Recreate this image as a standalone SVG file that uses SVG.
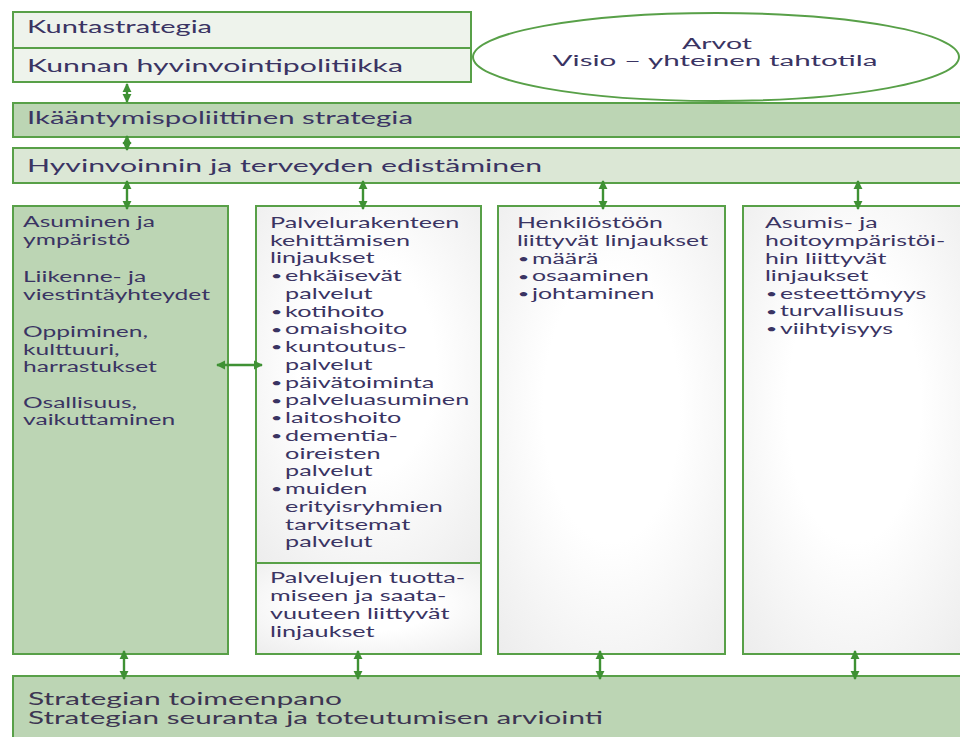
<svg xmlns="http://www.w3.org/2000/svg" width="960" height="737" viewBox="0 0 960 737">
  <style>
    .frame { stroke: #58a048; stroke-width: 2; }
    .dark { fill: #bcd5b4; }
    .mid { fill: #dbe7d5; }
    .pale { fill: #eef3ec; }
    .txt { font-family: Lato, "Open Sans", sans-serif; fill: #3a3463; }
    .h { font-size: 18px; }
    .c { font-size: 15px; }
    .c .dot { font-size: 12px; }
    .e { font-size: 15.5px; }
    .b { font-size: 16.5px; fill: #3d3552; }
    .conn { stroke: #3f9134; stroke-width: 2.4; fill: none; marker-start: url(#head); marker-end: url(#head); }
  </style>
  <defs>
    <marker id="head" viewBox="0 0 10 10" refX="9" refY="5" markerWidth="9" markerHeight="12" markerUnits="userSpaceOnUse" orient="auto-start-reverse">
      <path d="M0,0 L10,5 L0,10 z" fill="#3f9134"/>
    </marker>
    <radialGradient id="paper" cx="0.5" cy="0.45" r="0.75">
      <stop offset="0.4" stop-color="#ffffff"/>
      <stop offset="1" stop-color="#ececec"/>
    </radialGradient>
  </defs>

  <rect width="960" height="737" fill="#ffffff"/>

  <!-- municipal strategy box -->
  <g id="kuntastrategia">
    <rect class="frame pale" x="13" y="12" width="458" height="70"/>
    <line class="frame" x1="13" y1="48" x2="471" y2="48"/>
    <text class="txt h" x="27" y="33" textLength="185" lengthAdjust="spacingAndGlyphs">Kuntastrategia</text>
    <text class="txt h" x="27" y="72" textLength="376" lengthAdjust="spacingAndGlyphs">Kunnan hyvinvointipolitiikka</text>
  </g>

  <!-- values and vision -->
  <g id="arvot">
    <ellipse class="frame" cx="716" cy="57" rx="243" ry="44" fill="#ffffff"/>
    <text class="txt e" x="717" y="48.5" text-anchor="middle" textLength="70" lengthAdjust="spacingAndGlyphs">Arvot</text>
    <text class="txt e" x="715" y="66" text-anchor="middle" textLength="325" lengthAdjust="spacingAndGlyphs">Visio – yhteinen tahtotila</text>
  </g>

  <g id="ikaantymispolitiikka">
    <rect class="frame dark" x="13" y="103" width="952" height="34"/>
    <text class="txt h" x="27" y="124" textLength="386" lengthAdjust="spacingAndGlyphs">Ikääntymispoliittinen strategia</text>
  </g>

  <g id="hyvinvointi">
    <rect class="frame mid" x="13" y="148" width="952" height="35"/>
    <text class="txt h" x="27" y="172" textLength="515" lengthAdjust="spacingAndGlyphs">Hyvinvoinnin ja terveyden edistäminen</text>
  </g>

  <!-- column 1 -->
  <g id="elinymparisto">
    <rect class="frame dark" x="13" y="206" width="215" height="448"/>
    <g class="txt c" transform="translate(23 0) scale(1.64 1)">
      <text x="0" y="227">Asuminen ja</text>
      <text x="0" y="245">ympäristö</text>
      <text x="0" y="282">Liikenne- ja</text>
      <text x="0" y="300">viestintäyhteydet</text>
      <text x="0" y="337">Oppiminen,</text>
      <text x="0" y="355">kulttuuri,</text>
      <text x="0" y="372">harrastukset</text>
      <text x="0" y="408">Osallisuus,</text>
      <text x="0" y="425">vaikuttaminen</text>
    </g>
  </g>

  <!-- column 2 -->
  <g id="palvelurakenne">
    <rect class="frame" x="256" y="206" width="225" height="357" fill="url(#paper)"/>
    <rect class="frame" x="256" y="563" width="225" height="91" fill="url(#paper)"/>
    <g class="txt c" transform="translate(270 0) scale(1.68 1)">
      <text x="0" y="228">Palvelurakenteen</text>
      <text x="0" y="245.75">kehittämisen</text>
      <text x="0" y="263.5">linjaukset</text>
      <text class="dot" x="0.5" y="280.5">•</text><text x="9" y="281.25">ehkäisevät</text>
      <text x="9" y="299">palvelut</text>
      <text class="dot" x="0.5" y="316">•</text><text x="9" y="316.75">kotihoito</text>
      <text class="dot" x="0.5" y="333.75">•</text><text x="9" y="334.5">omaishoito</text>
      <text class="dot" x="0.5" y="351.5">•</text><text x="9" y="352.25">kuntoutus-</text>
      <text x="9" y="370">palvelut</text>
      <text class="dot" x="0.5" y="387">•</text><text x="9" y="387.75">päivätoiminta</text>
      <text class="dot" x="0.5" y="404.75">•</text><text x="9" y="405.5">palveluasuminen</text>
      <text class="dot" x="0.5" y="422.5">•</text><text x="9" y="423.25">laitoshoito</text>
      <text class="dot" x="0.5" y="440.25">•</text><text x="9" y="441">dementia-</text>
      <text x="9" y="458.75">oireisten</text>
      <text x="9" y="476.5">palvelut</text>
      <text class="dot" x="0.5" y="493.5">•</text><text x="9" y="494.25">muiden</text>
      <text x="9" y="512">erityisryhmien</text>
      <text x="9" y="529.75">tarvitsemat</text>
      <text x="9" y="547.5">palvelut</text>
      <text x="0" y="583">Palvelujen tuotta-</text>
      <text x="0" y="601">miseen ja saata-</text>
      <text x="0" y="619">vuuteen liittyvät</text>
      <text x="0" y="637">linjaukset</text>
    </g>
  </g>

  <!-- column 3 -->
  <g id="henkilosto">
    <rect class="frame" x="498" y="206" width="227" height="448" fill="url(#paper)"/>
    <g class="txt c" transform="translate(517 0) scale(1.66 1)">
      <text x="0" y="228">Henkilöstöön</text>
      <text x="0" y="246">liittyvät linjaukset</text>
      <text class="dot" x="0.5" y="263.25">•</text><text x="9" y="264">määrä</text>
      <text class="dot" x="0.5" y="280.75">•</text><text x="9" y="281.5">osaaminen</text>
      <text class="dot" x="0.5" y="298.25">•</text><text x="9" y="299">johtaminen</text>
    </g>
  </g>

  <!-- column 4 -->
  <g id="asumisymparistot">
    <rect class="frame" x="743" y="206" width="222" height="448" fill="url(#paper)"/>
    <g class="txt c" transform="translate(765 0) scale(1.66 1)">
      <text x="0" y="228">Asumis- ja</text>
      <text x="0" y="246">hoitoympäristöi-</text>
      <text x="0" y="264">hin liittyvät</text>
      <text x="0" y="281">linjaukset</text>
      <text class="dot" x="0.5" y="298.25">•</text><text x="9" y="299">esteettömyys</text>
      <text class="dot" x="0.5" y="315.75">•</text><text x="9" y="316.5">turvallisuus</text>
      <text class="dot" x="0.5" y="333.25">•</text><text x="9" y="334">viihtyisyys</text>
    </g>
  </g>

  <!-- implementation and follow-up -->
  <g id="toimeenpano">
    <rect class="frame dark" x="13" y="676" width="952" height="70"/>
    <text class="txt b" x="28" y="705" textLength="314" lengthAdjust="spacingAndGlyphs">Strategian toimeenpano</text>
    <text class="txt b" x="28" y="724" textLength="575" lengthAdjust="spacingAndGlyphs">Strategian seuranta ja toteutumisen arviointi</text>
  </g>

  <!-- two-way links -->
  <g id="connectors">
    <line class="conn" x1="127" y1="84" x2="127" y2="102"/>
    <line class="conn" x1="127" y1="136" x2="127" y2="150"/>
    <line class="conn" x1="127" y1="181" x2="127" y2="209"/>
    <line class="conn" x1="363" y1="181" x2="363" y2="209"/>
    <line class="conn" x1="603" y1="181" x2="603" y2="209"/>
    <line class="conn" x1="858" y1="181" x2="858" y2="209"/>
    <line class="conn" x1="124" y1="651" x2="124" y2="679"/>
    <line class="conn" x1="358" y1="651" x2="358" y2="679"/>
    <line class="conn" x1="600" y1="651" x2="600" y2="679"/>
    <line class="conn" x1="855" y1="651" x2="855" y2="679"/>
    <line class="conn" x1="217" y1="365" x2="262" y2="365"/>
  </g>
</svg>
